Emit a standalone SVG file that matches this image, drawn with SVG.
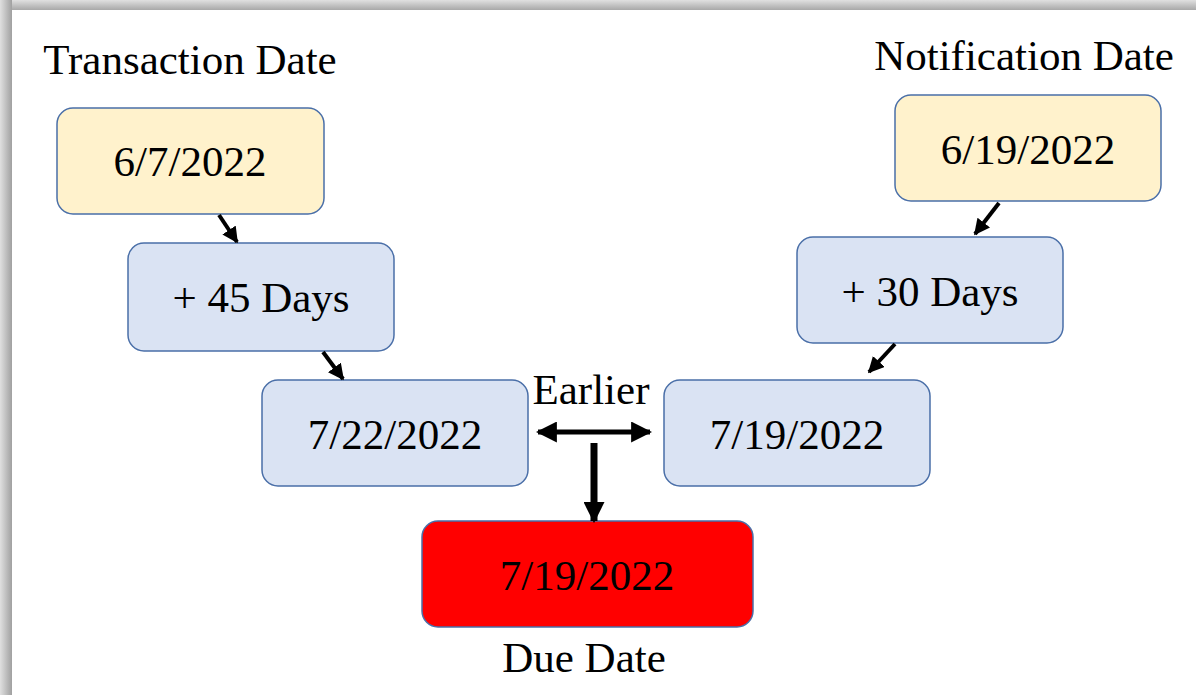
<svg xmlns="http://www.w3.org/2000/svg" width="1196" height="695" viewBox="0 0 1196 695">
<defs>
<linearGradient id="gTop" x1="0" y1="0" x2="0" y2="1"><stop offset="0" stop-color="#e0e0e0"/><stop offset="1" stop-color="#a8a8a8"/></linearGradient>
<linearGradient id="gLeft" x1="0" y1="0" x2="1" y2="0"><stop offset="0" stop-color="#e0e0e0"/><stop offset="1" stop-color="#a0a0a0"/></linearGradient>
<marker id="ah" viewBox="0 0 10 10" refX="9" refY="5" markerWidth="16" markerHeight="16" markerUnits="userSpaceOnUse" orient="auto-start-reverse"><path d="M0,0 L10,5 L0,10 z" fill="#000"/></marker>
<marker id="ahBig" viewBox="0 0 10 10" refX="9" refY="5" markerWidth="21" markerHeight="21" markerUnits="userSpaceOnUse" orient="auto-start-reverse"><path d="M0,0 L10,5 L0,10 z" fill="#000"/></marker>
</defs>
<style>
.t{font-family:"Liberation Serif","Times New Roman",serif;font-size:43px;fill:#000;text-anchor:middle}
.y{fill:#fff2cc;stroke:#4a6fa8;stroke-width:1.5}
.b{fill:#dae3f3;stroke:#4a6fa8;stroke-width:1.5}
.r{fill:#ff0000;stroke:#4a6fa8;stroke-width:1.5}
.c{stroke:#000;fill:none}
</style>
<rect x="0" y="0" width="1196" height="695" fill="#fff"/>
<rect x="0" y="0" width="1196" height="10" fill="url(#gTop)"/>
<rect x="0" y="0" width="12" height="695" fill="url(#gLeft)"/>
<text class="t" x="190" y="74">Transaction Date</text>
<text class="t" x="1024" y="70">Notification Date</text>
<text class="t" x="591" y="404">Earlier</text>
<text class="t" x="584" y="672">Due Date</text>
<g id="n1"><rect class="y" x="57" y="108" width="267" height="106" rx="16"/><text class="t" x="190" y="176">6/7/2022</text></g>
<g id="n2"><rect class="b" x="128" y="243" width="266" height="108" rx="16"/><text class="t" x="261" y="312">+ 45 Days</text></g>
<g id="n3"><rect class="b" x="262" y="380" width="266" height="106" rx="16"/><text class="t" x="395" y="449">7/22/2022</text></g>
<g id="n4"><rect class="y" x="895" y="95" width="266" height="106" rx="16"/><text class="t" x="1028" y="164">6/19/2022</text></g>
<g id="n5"><rect class="b" x="797" y="237" width="266" height="106" rx="16"/><text class="t" x="930" y="306">+ 30 Days</text></g>
<g id="n6"><rect class="b" x="664" y="380" width="266" height="106" rx="16"/><text class="t" x="797" y="449">7/19/2022</text></g>
<g id="n7"><rect class="r" x="422" y="521" width="331" height="106" rx="16"/><text class="t" x="587" y="590">7/19/2022</text></g>
<g id="connectors">
<line class="c" x1="219" y1="215" x2="237" y2="242" stroke-width="4" marker-end="url(#ah)"/>
<line class="c" x1="323" y1="352" x2="343" y2="379" stroke-width="4" marker-end="url(#ah)"/>
<line class="c" x1="999" y1="203" x2="975" y2="234" stroke-width="4" marker-end="url(#ah)"/>
<line class="c" x1="895" y1="344" x2="869" y2="372" stroke-width="4" marker-end="url(#ah)"/>
<line class="c" x1="538" y1="432" x2="650" y2="432" stroke-width="5" marker-start="url(#ahBig)" marker-end="url(#ahBig)"/>
<line class="c" x1="594" y1="443" x2="594" y2="521" stroke-width="7" marker-end="url(#ahBig)"/>
</g>
</svg>
